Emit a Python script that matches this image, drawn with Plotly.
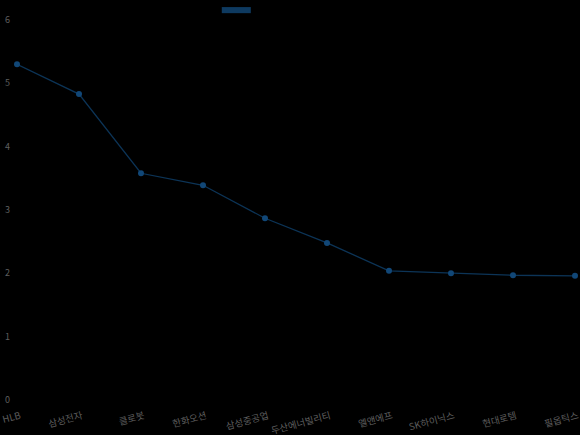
import plotly.graph_objects as go

categories = ["HLB", "삼성전자", "클로봇", "한화오션", "삼성중공업", "두산에너빌리티", "엘앤에프", "SK하이닉스", "현대로템", "필옵틱스"]
values = [5.30, 4.83, 3.58, 3.39, 2.87, 2.48, 2.04, 2.00, 1.97, 1.96]
y_ticks = [0, 1, 2, 3, 4, 5, 6]

fig = go.Figure()
fig.add_trace(go.Scatter(
    x=categories, y=values, mode="lines+markers",
    line=dict(color="#0c3457", width=1.3),
    marker=dict(color="#114777", size=6),
    showlegend=False, hoverinfo="x+y", cliponaxis=False,
))

fig.add_shape(type="rect", xref="paper", yref="paper",
              x0=0.367, x1=0.419, y0=1.018, y1=1.034,
              fillcolor="#0e3a60", line=dict(width=0), layer="above")

fig.update_layout(
    width=580, height=435,
    paper_bgcolor="#000000", plot_bgcolor="#000000",
    margin=dict(l=17, r=5, t=20, b=35),
    font=dict(family="Noto Sans CJK KR, Noto Sans, sans-serif", size=9, color="#5e5e5e"),
    xaxis=dict(showgrid=False, zeroline=False, showline=False, ticks="",
               tickangle=-15, range=[0, 9], tickfont=dict(size=9.5, color="#5e5e5e"),
               ticklabelstandoff=8, ticklabelshift=3, automargin=False),
    yaxis=dict(showgrid=False, zeroline=False, showline=False, ticks="",
               range=[0, 6], tickvals=y_ticks, ticklabelstandoff=6,
               tickfont=dict(size=9, color="#5e5e5e"), automargin=False),
)

fig.write_html("out.html", config={"displayModeBar": False},
               post_script="document.body.style.margin='0';document.body.style.background='#000';document.body.style.overflow='hidden';")
